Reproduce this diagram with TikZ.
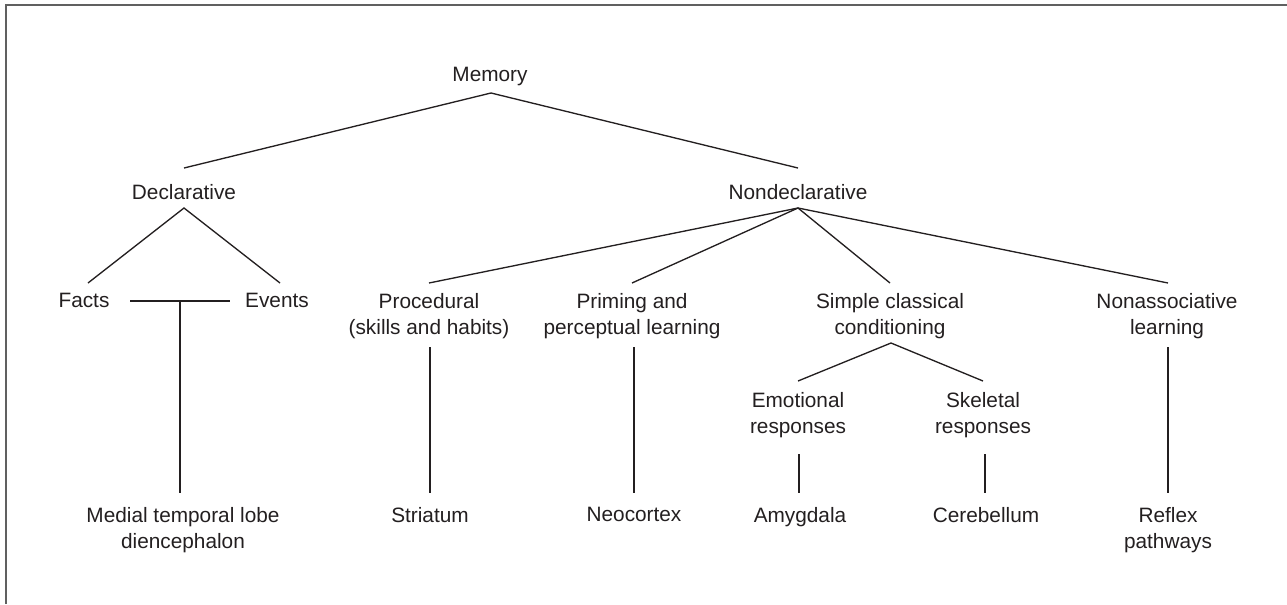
\documentclass[tikz,border=0pt]{standalone}
\usepackage{fontspec}
\setmainfont{Liberation Sans}
\usetikzlibrary{calc}
\definecolor{txt}{HTML}{231F20}
\definecolor{framegray}{HTML}{606060}
\begin{document}
\begin{tikzpicture}[x=0.75pt,y=-0.75pt,
  lbl/.style={anchor=north,inner sep=0pt,align=center,text=txt,
    font=\fontsize{15.6}{19.5}\selectfont},
  conn/.style={draw=txt,line width=1pt},
  framestyle/.style={draw=framegray,line width=1.6pt}]
\useasboundingbox (0,0) rectangle (1287,604);
\draw[framestyle] (6,604) -- (6,5) -- (1287,5);

% nodes
\node[lbl] (memory) at (490,67) {Memory};
\node[lbl] (decl) at (184,184) {Declarative};
\node[lbl] (nondecl) at (798,184) {Nondeclarative};
\node[lbl] (facts) at (84,293) {Facts};
\node[lbl] (events) at (277,293) {Events};
\node[lbl] (proc) at (429,293) {Procedural\\(skills and habits)};
\node[lbl] (prim) at (632,293) {Priming and\\perceptual learning};
\node[lbl] (simple) at (890,293) {Simple classical\\conditioning};
\node[lbl] (nonassoc) at (1167,293) {Nonassociative\\learning};
\node[lbl] (emot) at (798,392) {Emotional\\responses};
\node[lbl] (skel) at (983,392) {Skeletal\\responses};
\node[lbl] (mtl) at (183,507) {Medial temporal lobe\\diencephalon};
\node[lbl] (striatum) at (430,507) {Striatum};
\node[lbl] (neocortex) at (634,507) {Neocortex};
\node[lbl] (amygdala) at (800,507) {Amygdala};
\node[lbl] (cerebellum) at (986,507) {Cerebellum};
\node[lbl] (reflex) at (1168,507) {Reflex\\pathways};

% apex points
\coordinate (memA) at ($(memory.north)+(1,26)$);
\coordinate (declA) at ($(decl.north)+(0,24)$);
\coordinate (ndA) at ($(nondecl.north)+(0,24)$);
\coordinate (simA) at ($(simple.north)+(1,50)$);
\coordinate (feL) at (130,301);
\coordinate (feR) at (230,301);
\coordinate (feM) at (180,301);

% connectors
\draw[conn] ($(decl.north)+(0,-16)$) -- (memA) -- ($(nondecl.north)+(0,-16)$);
\draw[conn] ($(facts.north)+(4,-10)$) -- (declA) -- ($(events.north)+(3,-10)$);
\draw[conn] (ndA) -- ($(proc.north)+(0,-10)$);
\draw[conn] (ndA) -- ($(prim.north)+(0,-10)$);
\draw[conn] (ndA) -- ($(simple.north)+(0,-10)$);
\draw[conn] (ndA) -- ($(nonassoc.north)+(1,-10)$);
\draw[conn] ($(emot.north)+(0,-11)$) -- (simA) -- ($(skel.north)+(0,-11)$);
\draw[conn] (feL) -- (feR);
\draw[conn] (feM) -- (feM |- {$(mtl.north)+(0,-14)$});
\draw[conn] ($(proc.north)+(1,54)$) -- ($(striatum.north)+(0,-14)$);
\draw[conn] ($(prim.north)+(2,54)$) -- ($(neocortex.north)+(0,-14)$);
\draw[conn] ($(nonassoc.north)+(1,54)$) -- ($(reflex.north)+(0,-14)$);
\draw[conn] ($(emot.north)+(1,62)$) -- ($(amygdala.north)+(-1,-14)$);
\draw[conn] ($(skel.north)+(2,62)$) -- ($(cerebellum.north)+(-1,-14)$);
\end{tikzpicture}
\end{document}
